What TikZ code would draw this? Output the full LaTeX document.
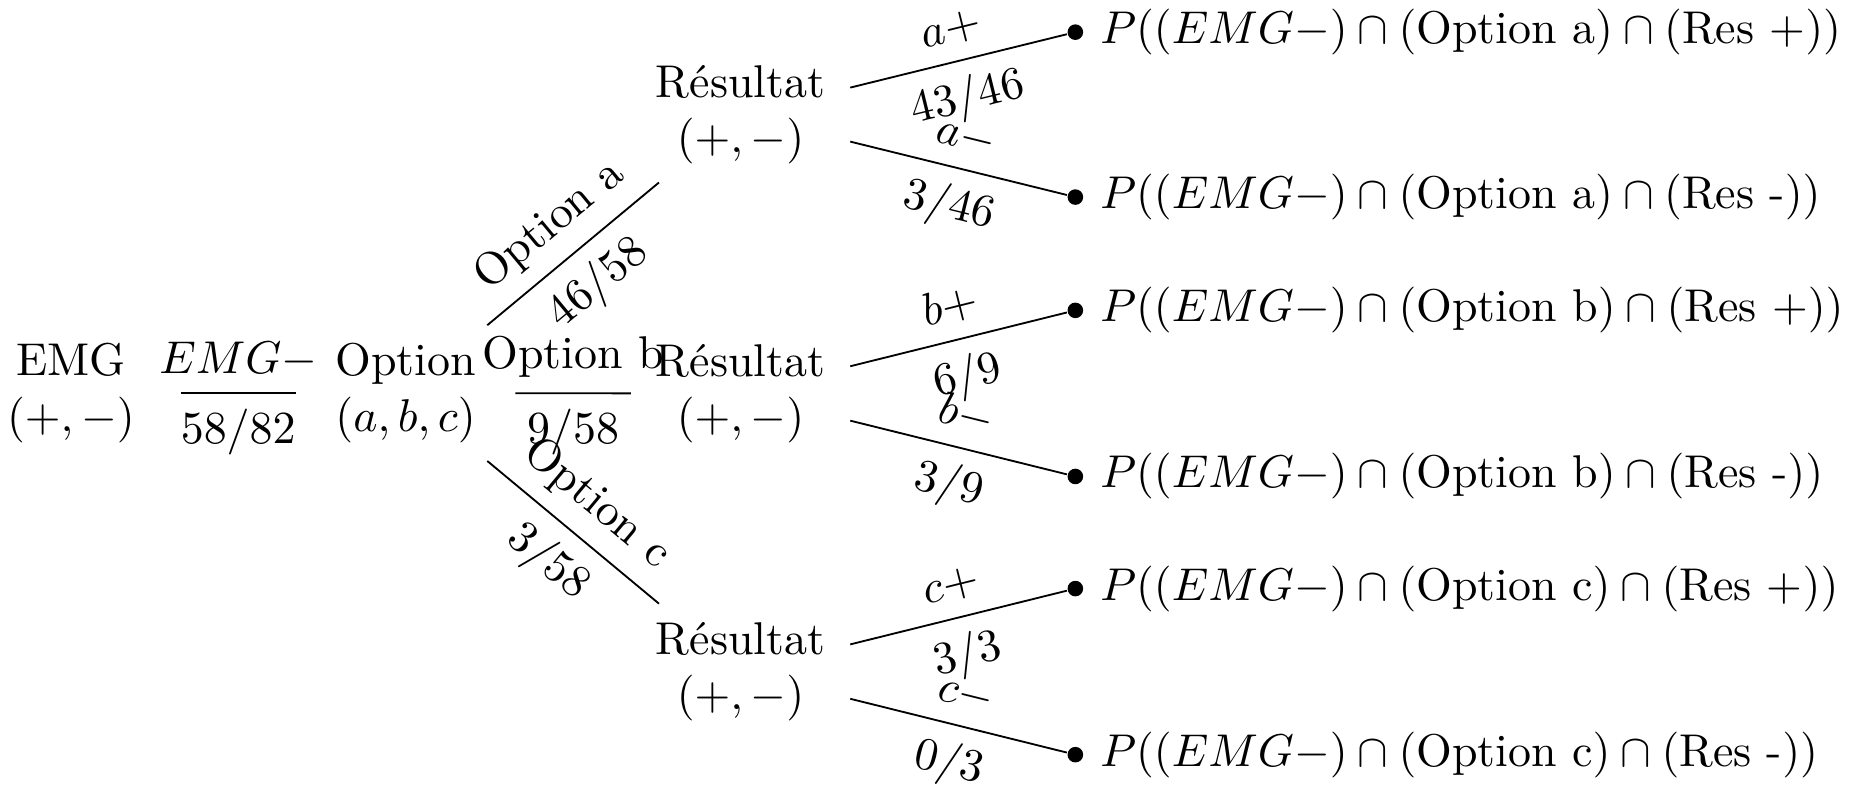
\documentclass[tikz,border=0pt]{standalone}
\usepackage{amsmath}
\usepackage{tikz}

\begin{document}
\begin{tikzpicture}[
    etat/.style={align=center, minimum width=1.665cm, minimum height=1.025cm, inner sep=0pt},
    feuille/.style={circle, fill, inner sep=1.2pt}
  ]

  \useasboundingbox (0,0) rectangle (14.18,-6.0);

  % ========== racine et choix de l'option ==========
  \node[etat] (emg) at (0.542,-3.008) {EMG\\$(+,-)$};
  \node[etat] (opt) at (3.104,-3.008) {Option\\$(a,b,c)$};

  \draw (emg) -- (opt)
       node[midway, above] {$EMG-$} node[midway, below] {$58/82$};

  % trois noeuds résultat
  \node[etat] (resA) at (5.667,-0.877) {Résultat\\$(+,-)$};
  \node[etat] (resB) at (5.667,-3.011) {Résultat\\$(+,-)$};
  \node[etat] (resC) at (5.667,-5.139) {Résultat\\$(+,-)$};

  \draw (opt) -- (resA)
       node[midway, above, sloped] {Option a} node[midway, below, sloped] {$46/58$};
  \draw (opt) -- (resB)
       node[midway, above, sloped] {Option b} node[midway, below, sloped] {$9/58$};
  \draw (opt) -- (resC)
       node[midway, above, sloped] {Option c} node[midway, below, sloped] {$3/58$};

  % ========== feuilles ==========
  \node[feuille, label=right:{$P((EMG-)\cap(\text{Option a})\cap(\text{Res +}))$}] (aPlus) at (8.229,-0.246) {};
  \node[feuille, label=right:{$P((EMG-)\cap(\text{Option a})\cap(\text{Res -}))$}] (aMoins) at (8.229,-1.508) {};
  \node[feuille, label=right:{$P((EMG-)\cap(\text{Option b})\cap(\text{Res +}))$}] (bPlus) at (8.229,-2.375) {};
  \node[feuille, label=right:{$P((EMG-)\cap(\text{Option b})\cap(\text{Res -}))$}] (bMoins) at (8.229,-3.646) {};
  \node[feuille, label=right:{$P((EMG-)\cap(\text{Option c})\cap(\text{Res +}))$}] (cPlus) at (8.229,-4.504) {};
  \node[feuille, label=right:{$P((EMG-)\cap(\text{Option c})\cap(\text{Res -}))$}] (cMoins) at (8.229,-5.775) {};

  % branches résultat + / -
  \draw (resA) -- (aPlus)
       node[midway, above, sloped] {$a+$} node[midway, below, sloped] {$43/46$};
  \draw (resA) -- (aMoins)
       node[midway, above, sloped] {$a-$} node[midway, below, sloped] {$3/46$};
  \draw (resB) -- (bPlus)
       node[midway, above, sloped] {$b+$} node[midway, below, sloped] {$6/9$};
  \draw (resB) -- (bMoins)
       node[midway, above, sloped] {$b-$} node[midway, below, sloped] {$3/9$};
  \draw (resC) -- (cPlus)
       node[midway, above, sloped] {$c+$} node[midway, below, sloped] {$3/3$};
  \draw (resC) -- (cMoins)
       node[midway, above, sloped] {$c-$} node[midway, below, sloped] {$0/3$};

\end{tikzpicture}
\end{document}
